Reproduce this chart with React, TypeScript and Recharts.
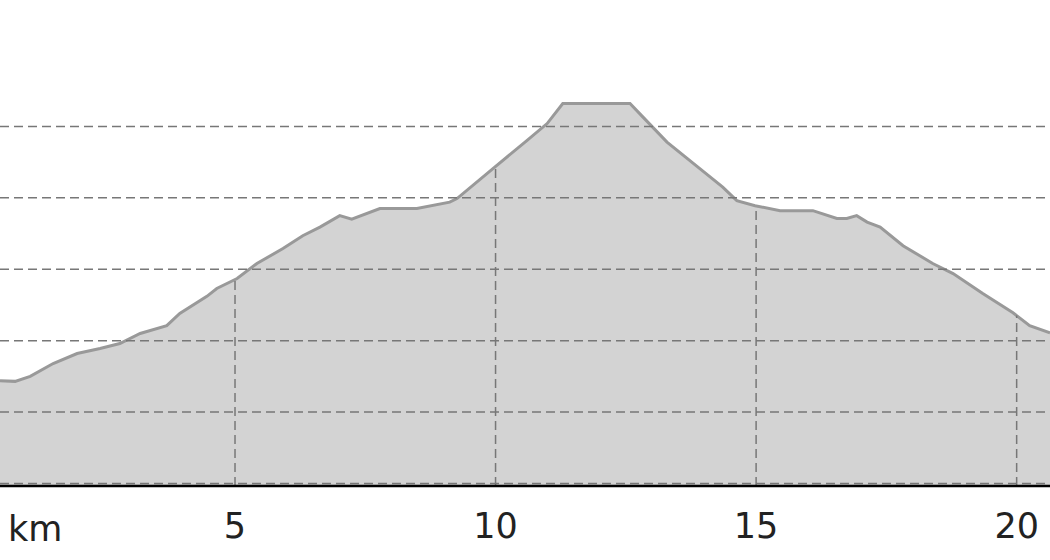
import { AreaChart, Area, XAxis, YAxis, ReferenceLine, Label } from 'recharts'

// distance along the route (km) and elevation (m)
const distanceKm = [
  0.49, 0.78, 1.07, 1.51, 1.97, 2.41, 2.79, 3.18, 3.69, 3.94, 4.46, 4.65, 5.04, 5.42, 5.92,
  6.3, 6.63, 7.01, 7.24, 7.78, 8.49, 9.12, 9.26, 9.95, 10.6, 10.99, 11.29, 12.58, 12.83,
  13.29, 13.92, 14.36, 14.63, 14.98, 15.46, 16.09, 16.55, 16.74, 16.93, 17.13, 17.38,
  17.82, 18.39, 18.78, 19.35, 19.93, 20.25, 20.64,
]
const elevation = [
  144, 143, 150, 168, 182, 189, 196, 210, 221, 238, 262, 273, 287, 308, 329,
  347, 359, 375, 370, 385, 385, 394, 399, 441, 480, 504, 532, 532, 513,
  478, 441, 415, 396, 389, 382, 382, 371, 371, 375, 366, 359,
  333, 308, 294, 266, 239, 221, 211,
]

const kmTicks = [5, 10, 15, 20]
const gridLevels = [0, 100, 200, 300, 400, 500]

const X_DOMAIN: [number, number] = [0.49, 20.64]
const Y_DOMAIN: [number, number] = [-3.5, 677]

const data = distanceKm.map((km, i) => ({ km, ele: elevation[i] }))

// elevation at a given distance, read from the profile itself
function elevationAt(km: number) {
  for (let i = 1; i < distanceKm.length; i++) {
    if (km <= distanceKm[i]) {
      const t = (km - distanceKm[i - 1]) / (distanceKm[i] - distanceKm[i - 1])
      return elevation[i - 1] + t * (elevation[i] - elevation[i - 1])
    }
  }
  return elevation[elevation.length - 1]
}

const FONT = '"DejaVu Sans", sans-serif'
const DASH = '9 5'
const GRID = '#777'

export default function App() {
  return (
    <div style={{ position: 'absolute', left: 0, top: 0, width: 1050, height: 560, background: '#fff' }}>
      <AreaChart width={1050} height={560} data={data} margin={{ top: 0, right: 0, bottom: 0, left: 0 }}>
        <XAxis
          dataKey="km"
          type="number"
          domain={X_DOMAIN}
          allowDataOverflow
          ticks={kmTicks}
          height={74}
          tickLine={false}
          tickMargin={21}
          axisLine={{ stroke: '#000', strokeWidth: 2.5 }}
          tick={{ fill: '#222', fontSize: 35, fontFamily: FONT }}
        >
          <Label
            content={({ viewBox }: any) => (
              <text x={viewBox.x + 8} y={viewBox.y + 55} fill="#222" fontSize={35} fontFamily={FONT}>
                km
              </text>
            )}
          />
        </XAxis>
        <YAxis hide domain={Y_DOMAIN} allowDataOverflow type="number" />
        <Area
          type="linear"
          dataKey="ele"
          baseValue={Y_DOMAIN[0]}
          stroke="#999"
          strokeWidth={3}
          fill="#d3d3d3"
          fillOpacity={1}
          dot={false}
          activeDot={false}
          isAnimationActive={false}
        />
        {gridLevels.map((v) => (
          <ReferenceLine key={'h' + v} y={v} stroke={GRID} strokeWidth={1.5} strokeDasharray={DASH} />
        ))}
        {kmTicks.map((km) => (
          <ReferenceLine
            key={'v' + km}
            segment={[
              { x: km, y: Y_DOMAIN[0] },
              { x: km, y: elevationAt(km) },
            ]}
            stroke={GRID}
            strokeWidth={1.5}
            strokeDasharray={DASH}
          />
        ))}
      </AreaChart>
    </div>
  )
}
